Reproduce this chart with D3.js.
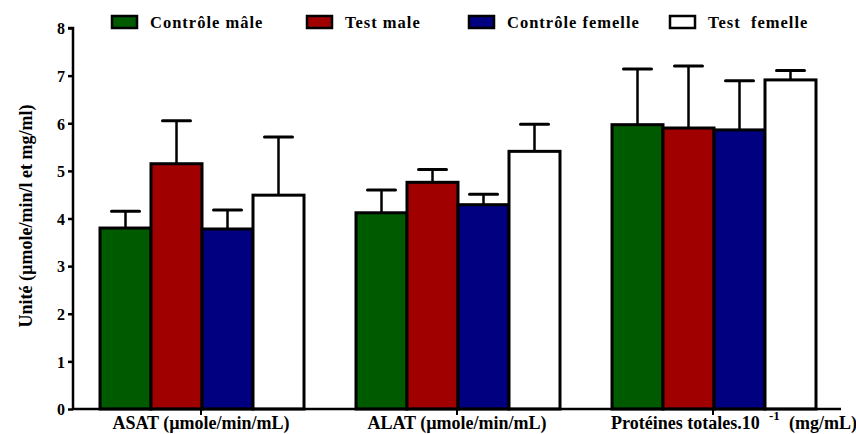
<!DOCTYPE html>
<html><head><meta charset="utf-8">
<script src="https://cdn.jsdelivr.net/npm/d3@7"></script>
<style>body{margin:0;background:#fff}svg{display:block}</style>
</head><body><svg id="c" width="856" height="434"></svg>
<script>
const categories = ["ASAT (µmole/min/mL)", "ALAT (µmole/min/mL)", "Protéines totales.10"];
const seriesNames = ["Contrôle mâle", "Test male", "Contrôle femelle", "Test  femelle"];
const seriesColors = ["#005a00", "#a00000", "#000080", "#ffffff"];
const controleMale = [3.80, 4.12, 5.97];
const testMale = [5.15, 4.76, 5.90];
const controleFemelle = [3.78, 4.29, 5.86];
const testFemelle = [4.49, 5.41, 6.91];
const errControleMale = [0.35, 0.48, 1.17];
const errTestMale = [0.90, 0.27, 1.30];
const errControleFemelle = [0.40, 0.22, 1.03];
const errTestFemelle = [1.22, 0.57, 0.20];
const yTicks = [0,1,2,3,4,5,6,7,8];

const values = [controleMale, testMale, controleFemelle, testFemelle];
const errs = [errControleMale, errTestMale, errControleFemelle, errTestFemelle];
const FONT = "font-family:'Liberation Serif','Times New Roman',serif;font-weight:bold;";

const svg = d3.select("#c");
const x0 = d3.scaleBand().domain(categories).range([73, 841]).paddingInner(0).paddingOuter(0);
const x1 = d3.scaleBand().domain(d3.range(4)).range([27, 256-25]);
const y = d3.scaleLinear().domain([0, 8]).range([409, 28]);

const data = [];
categories.forEach((c, i) => values.forEach((s, j) => data.push({c, j, v: s[i], e: errs[j][i]})));

const g = svg.append("g");
g.selectAll(".err").data(data).join("g").each(function(d){
  const cx = x0(d.c) + x1(d.j) + x1.bandwidth()/2;
  const sel = d3.select(this);
  sel.append("line").attr("x1", cx).attr("x2", cx).attr("y1", y(d.v)).attr("y2", y(d.v + d.e))
    .attr("stroke", "#000").attr("stroke-width", 2.5);
  sel.append("line").attr("x1", cx - 14).attr("x2", cx + 14).attr("y1", y(d.v + d.e)).attr("y2", y(d.v + d.e))
    .attr("stroke", "#000").attr("stroke-width", 3).attr("stroke-linecap", "round");
});
g.selectAll("rect.bar").data(data).join("rect").attr("class", "bar")
  .attr("x", d => x0(d.c) + x1(d.j))
  .attr("width", x1.bandwidth())
  .attr("y", d => y(d.v))
  .attr("height", d => y(0) - y(d.v))
  .attr("fill", d => seriesColors[d.j])
  .attr("stroke", "#000").attr("stroke-width", 3);

const ya = svg.append("g").attr("transform", "translate(73,0)").attr("font-family", "Liberation Serif")
  .call(d3.axisLeft(y).tickValues(yTicks).tickFormat(d3.format("d")).tickSize(5).tickPadding(3));
ya.attr("font-family", "Liberation Serif");
ya.select(".domain").attr("stroke-width", 2.5).attr("d", `M-5,${y(8)}H0V${y(0)}`);
ya.selectAll(".tick line").attr("stroke-width", 2.5);
ya.selectAll("text").attr("style", FONT + "font-size:16px").attr("fill", "#000").attr("dy", "0.36em");

const xa = svg.append("g").attr("transform", `translate(0,${y(0)})`)
  .call(d3.axisBottom(x0).tickSize(6).tickFormat(""));
xa.select(".domain").attr("stroke-width", 2.5).attr("d", `M73,0H841`);
xa.selectAll(".tick line").attr("stroke-width", 2);

const xl = svg.append("g");
categories.forEach((c, i) => {
  const t = xl.append("text").attr("y", 429).attr("style", FONT + "font-size:18px").attr("fill", "#000");
  if (i === 2) {
    t.attr("x", 611).attr("text-anchor", "start").text(c);
    xl.append("text").attr("x", 769).attr("y", 420).attr("style", FONT + "font-size:13px").text("-1");
    xl.append("text").attr("x", 789).attr("y", 429).attr("style", FONT + "font-size:18px").text("(mg/mL)");
  } else {
    t.attr("x", x0(c) + x0.bandwidth()/2).attr("text-anchor", "middle").text(c);
  }
});

svg.append("text").attr("transform", "translate(32,216) rotate(-90)").attr("text-anchor", "middle")
  .attr("style", FONT + "font-size:18px").text("Unité (µmole/min/l et mg/ml)");

const legX = [112, 307, 469, 670];
const leg = svg.append("g");
seriesNames.forEach((n, i) => {
  leg.append("rect").attr("x", legX[i]).attr("y", 16).attr("width", 25).attr("height", 12)
    .attr("fill", seriesColors[i]).attr("stroke", "#000").attr("stroke-width", 2.5);
  leg.append("text").attr("x", legX[i] + 38).attr("y", 28)
    .attr("style", FONT + "font-size:16.5px;letter-spacing:1px;white-space:pre").text(n);
});
</script></body></html>
